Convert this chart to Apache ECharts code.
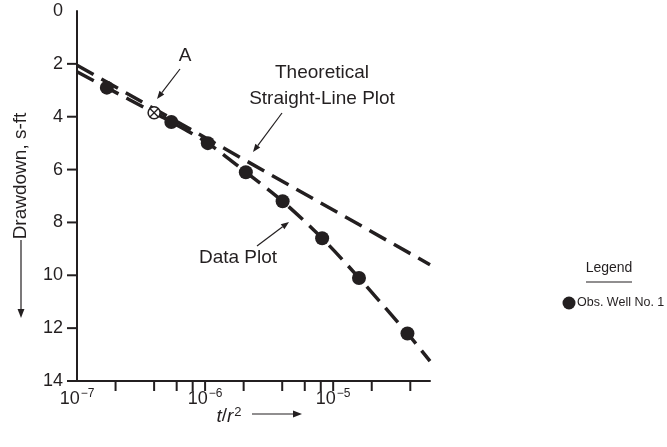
<!DOCTYPE html>
<html><head><meta charset="utf-8">
<script src="https://cdn.jsdelivr.net/npm/echarts@6/dist/echarts.min.js"></script>
<style>html,body{margin:0;padding:0;background:#fff}#c{width:667px;height:447px}</style>
</head><body><div id="c"></div>
<script>
// Observation well data (t/r^2, drawdown ft)
const obsX = [1.71e-7, 5.45e-7, 1.05e-6, 2.08e-6, 4.03e-6, 8.2e-6, 1.59e-5, 3.8e-5];
const obsY = [2.9, 4.2, 5.0, 6.1, 7.2, 8.6, 10.1, 12.2];
// Point A
const pointAX = [4.0e-7];
const pointAY = [3.85];
// Theoretical straight line
const theoryX = [1e-7, 5.7e-5];
const theoryY = [2.05, 9.6];
// Data plot curve (drawn through data)
const curveX = [1e-7, 1.71e-7, 4.0e-7, 5.45e-7, 1.05e-6, 2.08e-6, 4.03e-6, 8.2e-6, 1.59e-5, 3.8e-5, 5.7e-5];
const curveY = [2.3, 2.9, 3.85, 4.2, 5.0, 6.1, 7.2, 8.6, 10.1, 12.2, 13.25];
// Ticks
const xTickValues = [2e-7, 4e-7, 6e-7, 8e-7, 1e-6, 2e-6, 4e-6, 6e-6, 8e-6, 1e-5, 2e-5, 4e-5];
const yTickValues = [2, 4, 6, 8, 10, 12, 14];
const xMin = 1e-7, xMax = 5.7e-5, yMin = 0, yMax = 14, yStep = 2;

const FONT = "'Liberation Sans', Arial, Helvetica, sans-serif";
const INK = '#231f20';

const zip = (a, b) => a.map((v, i) => [v, b[i]]);

function arrow(x1, y1, x2, y2, head) {
  head = head || 7;
  const ang = Math.atan2(y2 - y1, x2 - x1);
  const w = head * 0.38;
  const bx = x2 - head * Math.cos(ang), by = y2 - head * Math.sin(ang);
  const px = -Math.sin(ang) * w, py = Math.cos(ang) * w;
  return {
    type: 'group', silent: true,
    children: [
      { type: 'line', shape: { x1, y1, x2: bx, y2: by }, style: { stroke: INK, lineWidth: 1.2 } },
      { type: 'polygon', shape: { points: [[x2, y2], [bx + px, by + py], [bx - px, by - py]] }, style: { fill: INK } }
    ]
  };
}
function txt(x, y, text, size, align, extra) {
  return Object.assign({
    type: 'text', x, y, silent: true,
    style: { text, fill: INK, font: size + 'px ' + FONT, textAlign: align || 'center', textVerticalAlign: 'middle' }
  }, extra || {});
}

const chart = echarts.init(document.getElementById('c'), null, { renderer: 'canvas' });
const option = {
  animation: false,
  backgroundColor: '#fff',
  grid: { left: 77, right: 237, top: 11, bottom: 66, containLabel: false },
  xAxis: {
    type: 'log', logBase: 10, min: xMin, max: xMax,
    axisLine: { onZero: false, lineStyle: { color: INK, width: 2 } },
    axisTick: { show: false }, splitLine: { show: false }, minorTick: { show: false },
    axisLabel: {
      margin: 7, color: INK, showMaxLabel: false,
      formatter: v => {
        const e = Math.log10(v);
        if (Math.abs(e - Math.round(e)) > 1e-6) return '';
        return '{b|10}{s|−' + Math.round(-e) + '}';
      },
      rich: {
        b: { fontFamily: FONT, fontSize: 18, color: INK, verticalAlign: 'bottom' },
        s: { fontFamily: FONT, fontSize: 12, color: INK, verticalAlign: 'top', padding: [0, 0, 8, 1] }
      }
    }
  },
  yAxis: {
    type: 'value', inverse: true, min: yMin, max: yMax, interval: yStep,
    axisLine: { onZero: false, lineStyle: { color: INK, width: 2 } },
    axisTick: { show: false }, splitLine: { show: false },
    axisLabel: { margin: 14, color: INK, fontFamily: FONT, fontSize: 18 }
  },
  series: [
    {
      type: 'line', name: 'Theoretical', data: zip(theoryX, theoryY), showSymbol: false, symbol: 'none',
      lineStyle: { color: INK, width: 3.5, type: [19, 9] }, z: 2
    },
    {
      type: 'line', name: 'Data Plot', data: zip(curveX, curveY), showSymbol: false, symbol: 'none', smooth: 0.3,
      lineStyle: { color: INK, width: 3.5, type: [19, 9] }, z: 2
    },
    {
      type: 'scatter', name: 'Obs. Well No. 1', data: zip(obsX, obsY), symbol: 'circle', symbolSize: 14,
      itemStyle: { color: INK, opacity: 1 }, z: 4
    },
    {
      type: 'custom', name: 'A', data: zip(pointAX, pointAY), z: 5,
      renderItem: (params, api) => {
        const p = api.coord([api.value(0), api.value(1)]);
        const r = 6, d = r * 0.7071;
        return {
          type: 'group', children: [
            { type: 'circle', shape: { cx: p[0], cy: p[1], r }, style: { fill: '#fff', stroke: INK, lineWidth: 1.5 } },
            { type: 'line', shape: { x1: p[0] - d, y1: p[1] - d, x2: p[0] + d, y2: p[1] + d }, style: { stroke: INK, lineWidth: 1.3 } },
            { type: 'line', shape: { x1: p[0] - d, y1: p[1] + d, x2: p[0] + d, y2: p[1] - d }, style: { stroke: INK, lineWidth: 1.3 } }
          ]
        };
      }
    },
    {
      type: 'custom', name: 'xticks', data: xTickValues.map(v => [v, yMax]), clip: false, silent: true,
      renderItem: (params, api) => {
        const p = api.coord([api.value(0), api.value(1)]);
        return { type: 'line', shape: { x1: p[0], y1: p[1], x2: p[0], y2: p[1] + 10 }, style: { stroke: INK, lineWidth: 2 } };
      }
    },
    {
      type: 'custom', name: 'yticks', data: yTickValues.map(v => [xMin, v]), clip: false, silent: true,
      renderItem: (params, api) => {
        const p = api.coord([api.value(0), api.value(1)]);
        return { type: 'line', shape: { x1: p[0] - 10, y1: p[1], x2: p[0], y2: p[1] }, style: { stroke: INK, lineWidth: 2 } };
      }
    }
  ],
  graphic: [
    // y axis name with arrow
    txt(21, 176, 'Drawdown, s-ft', 19, 'center', { rotation: Math.PI / 2 }),
    arrow(21, 240, 21, 318, 9),
    // x axis name with arrow
    { type: 'text', x: 229, y: 416, silent: true,
      style: { text: '{i|t}/{i|r}{s|2}', textAlign: 'center', textVerticalAlign: 'middle',
        rich: { i: { fontFamily: FONT, fontSize: 19, fontStyle: 'italic', fill: INK, verticalAlign: 'bottom' },
                s: { fontFamily: FONT, fontSize: 13, fill: INK, verticalAlign: 'top', padding: [0, 0, 8, 1] } },
        font: '19px ' + FONT, fill: INK } },
    arrow(252, 414, 302, 414, 9),
    // annotations
    txt(185, 56, 'A', 19),
    arrow(180, 69, 157, 99, 8),
    txt(322, 73, 'Theoretical', 19),
    txt(322, 99, 'Straight-Line Plot', 19),
    arrow(282, 113, 253, 152, 8),
    txt(238, 258, 'Data Plot', 19),
    arrow(257, 246, 289, 222, 8),
    // legend
    txt(609, 268, 'Legend', 14),
    { type: 'line', silent: true, shape: { x1: 586, y1: 282, x2: 632, y2: 282 }, style: { stroke: INK, lineWidth: 1.2 } },
    { type: 'circle', silent: true, shape: { cx: 569, cy: 303, r: 6.5 }, style: { fill: INK } },
    txt(577, 303, 'Obs. Well No. 1', 12.5, 'left')
  ]
};
chart.setOption(option);
</script>
</body></html>
